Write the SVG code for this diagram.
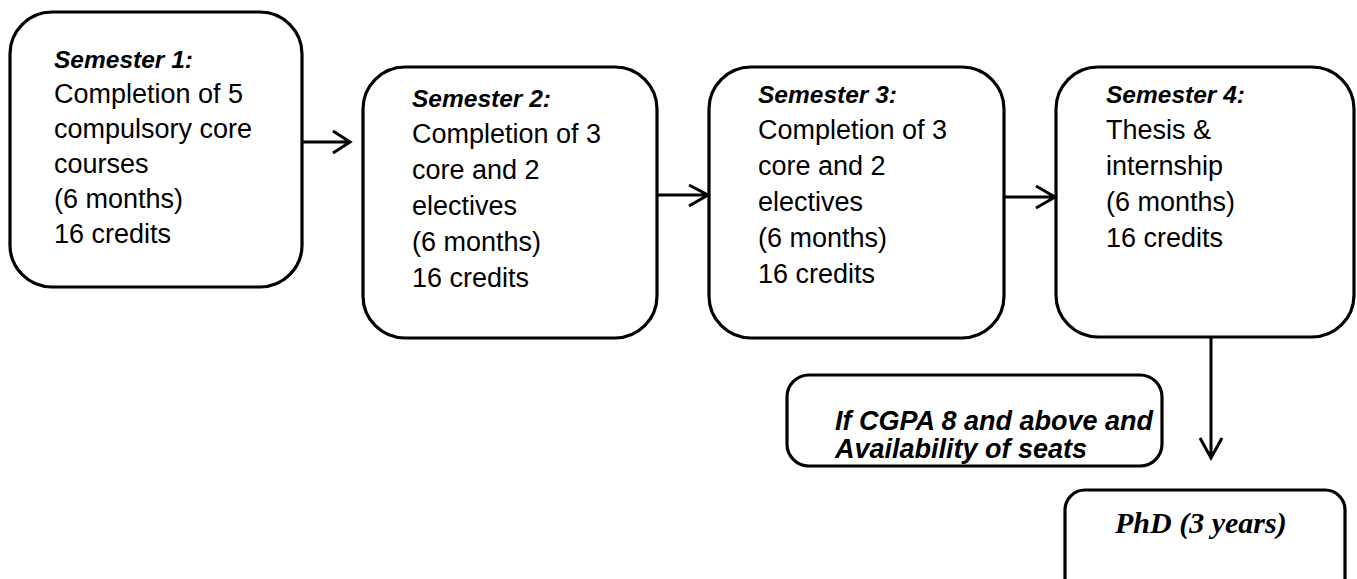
<svg xmlns="http://www.w3.org/2000/svg" width="1357" height="579" viewBox="0 0 1357 579">
<style>
.box{fill:#fff;stroke:#000;stroke-width:3.2}
.t{font-family:"Liberation Sans",Arial,sans-serif;font-size:27px;fill:#000}
.h{font-weight:bold;font-style:italic;font-size:24.5px}
.c{font-family:"Liberation Sans",Arial,sans-serif;font-size:27px;font-weight:bold;font-style:italic;fill:#000}
.p{font-family:"Liberation Serif","Times New Roman",serif;font-size:30px;font-weight:bold;font-style:italic;fill:#000}
.ln{fill:none;stroke:#000;stroke-width:3}
</style>
<rect width="1357" height="579" fill="#fff"/>
<g id="sem1">
<rect class="box" x="10" y="12" width="292" height="275" rx="42"/>
<text class="t" x="54"><tspan class="h" y="68">Semester 1:</tspan><tspan x="54" y="103">Completion of 5</tspan><tspan x="54" y="138">compulsory core</tspan><tspan x="54" y="173">courses</tspan><tspan x="54" y="208">(6 months)</tspan><tspan x="54" y="243">16 credits</tspan></text>
</g>
<g id="sem2">
<rect class="box" x="363" y="67" width="294" height="271" rx="42"/>
<text class="t" x="412"><tspan class="h" y="107">Semester 2:</tspan><tspan x="412" y="143">Completion of 3</tspan><tspan x="412" y="179">core and 2</tspan><tspan x="412" y="215">electives</tspan><tspan x="412" y="251">(6 months)</tspan><tspan x="412" y="287">16 credits</tspan></text>
</g>
<g id="sem3">
<rect class="box" x="709" y="67" width="295" height="271" rx="42"/>
<text class="t" x="758"><tspan class="h" y="103">Semester 3:</tspan><tspan x="758" y="139">Completion of 3</tspan><tspan x="758" y="175">core and 2</tspan><tspan x="758" y="211">electives</tspan><tspan x="758" y="247">(6 months)</tspan><tspan x="758" y="283">16 credits</tspan></text>
</g>
<g id="sem4">
<rect class="box" x="1056" y="67" width="298" height="270" rx="42"/>
<text class="t" x="1106"><tspan class="h" y="103">Semester 4:</tspan><tspan x="1106" y="139">Thesis &amp;</tspan><tspan x="1106" y="175">internship</tspan><tspan x="1106" y="211">(6 months)</tspan><tspan x="1106" y="247">16 credits</tspan></text>
</g>
<g id="condition">
<rect class="box" x="787" y="375" width="375" height="91" rx="22"/>
<text class="c" x="835" y="430">If CGPA 8 and above and</text>
<text class="c" x="835" y="458">Availability of seats</text>
</g>
<g id="phd">
<rect class="box" x="1065" y="490" width="280" height="120" rx="20"/>
<text class="p" x="1115" y="533">PhD (3 years)</text>
</g>
<g id="connectors">
<path class="ln" d="M302 142H349M333 131L350 142L333 153"/>
<path class="ln" d="M657 195H707M689 185L708 195L689 206"/>
<path class="ln" d="M1004 197H1054M1036 186L1055 197L1036 208"/>
<path class="ln" d="M1211 337V457M1200 438L1211 458L1222 438"/>
</g>
<text x="47" y="603" font-family="'Liberation Serif','Times New Roman',serif" font-size="36">Fig. 2</text>
</svg>
